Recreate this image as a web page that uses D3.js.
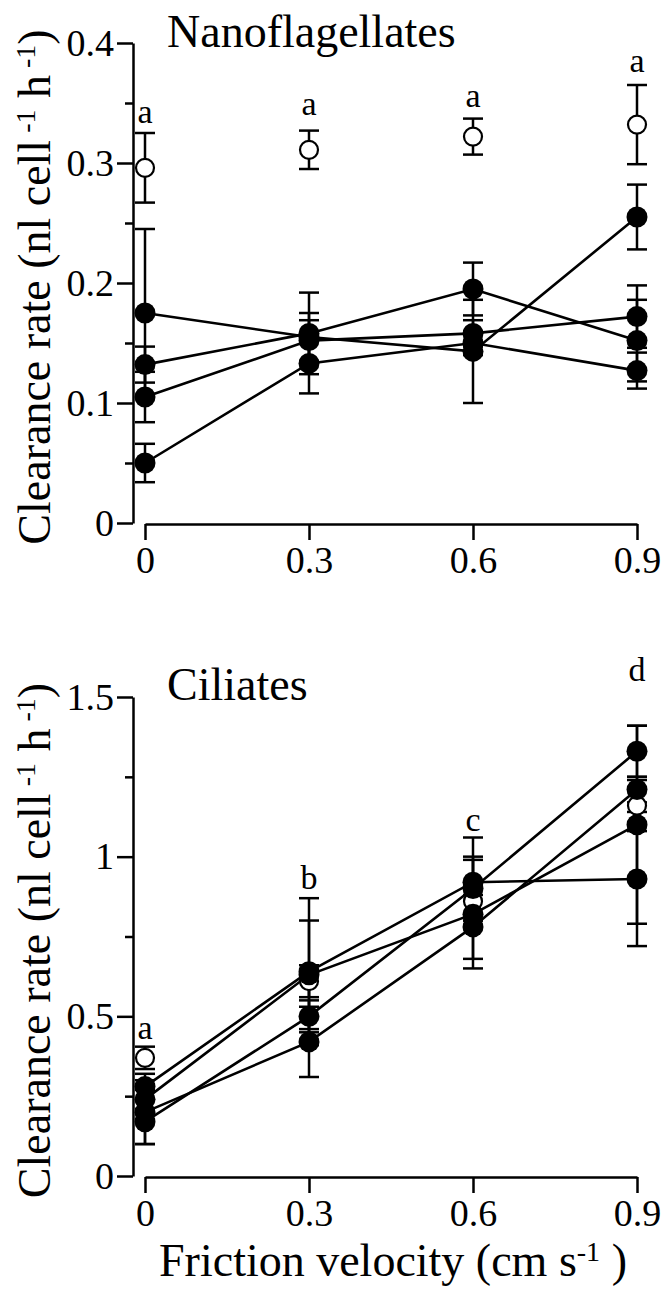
<!DOCTYPE html>
<html>
<head>
<meta charset="utf-8">
<script src="https://cdn.jsdelivr.net/npm/d3@7"></script>
<style>
  body { margin: 0; background: #fff; }
  text { font-family: "Liberation Serif", "Times New Roman", serif; fill: #000; }
  .axis path, .axis line { stroke: #000; stroke-width: 2.5px; }
</style>
</head>
<body>
<div class="chart"></div>
<script>
const velocity = [0, 0.3, 0.6, 0.9]
const xTickLabels = ['0', '0.3', '0.6', '0.9']

// nanoflagellates: four runs (filled) and the mean (open)
const nanoRuns = [
  [0.132, 0.158, 0.195, 0.152],
  [0.175, 0.155, 0.143, 0.255],
  [0.105, 0.152, 0.158, 0.172],
  [0.050, 0.133, 0.150, 0.127]
]
const nanoRunErr = [
  [0.015, 0.034, 0.022, 0.034],
  [0.070, 0.020, 0.043, 0.027],
  [0.021, 0.017, 0.011, 0.026],
  [0.016, 0.025, 0.010, 0.015]
]
const nanoMean = [0.296, 0.311, 0.322, 0.332]
const nanoMeanErr = [0.029, 0.016, 0.015, 0.033]
const nanoLetters = ['a', 'a', 'a', 'a']
const nanoLetterAt = [0.333, 0.340, 0.347, 0.376]
const nanoTicks = [0, 0.1, 0.2, 0.3, 0.4]
const nanoTickLabels = ['0', '0.1', '0.2', '0.3', '0.4']
const nanoMinor = [0.05, 0.15, 0.25, 0.35]

// ciliates
const ciliRuns = [
  [0.28, 0.64, 0.92, 0.93],
  [0.17, 0.50, 0.90, 1.33],
  [0.24, 0.63, 0.82, 1.10],
  [0.20, 0.42, 0.78, 1.21]
]
const ciliRunErr = [
  [0.04, 0.23, 0.14, 0.21],
  [0.07, 0.05, 0.10, 0.08],
  [0.03, 0.17, 0.17, 0.31],
  [0.10, 0.11, 0.10, 0.04]
]
const ciliMean = [0.37, 0.61, 0.86, 1.16]
const ciliMeanErr = [0.035, 0.05, 0.06, 0.08]
const ciliLetters = ['a', 'b', 'c', 'd']
const ciliLetterAt = [0.43, 0.90, 1.08, 1.55]
const ciliTicks = [0, 0.5, 1, 1.5]
const ciliTickLabels = ['0', '0.5', '1', '1.5']
const ciliMinor = [0.25, 0.75, 1.25]

const svg = d3.select('.chart')
  .append('svg')
    .attr('width', 662)
    .attr('height', 1293)

const x = d3.scaleLinear().domain([0, 0.9]).range([145, 637])
const axisX = 133

function drawPanel (p) {
  const y = d3.scaleLinear().domain([0, p.max]).range([p.bottom, p.top])
  const g = svg.append('g')

  //y axis, major then minor ticks
  g.append('g')
    .attr('class', 'axis')
    .attr('transform', `translate(${axisX},0)`)
    .call(d3.axisLeft(y).tickValues(p.ticks).tickSize(16).tickSizeOuter(0).tickPadding(3)
      .tickFormat((d, i) => p.tickLabels[i]))
    .call(a => a.selectAll('text').style('font-size', '38px').style('font-family', '"Liberation Serif", serif'))
  g.append('g')
    .attr('class', 'axis')
    .attr('transform', `translate(${axisX},0)`)
    .call(d3.axisLeft(y).tickValues(p.minor).tickSize(8).tickFormat(''))
    .call(a => a.select('.domain').remove())

  //x axis
  g.append('g')
    .attr('class', 'axis')
    .attr('transform', `translate(0,${p.bottom + 1})`)
    .call(d3.axisBottom(x).tickValues(velocity).tickSize(16).tickSizeOuter(0).tickPadding(6)
      .tickFormat((d, i) => xTickLabels[i]))
    .call(a => a.selectAll('text').style('font-size', '38px').style('font-family', '"Liberation Serif", serif'))

  //title
  g.append('text')
    .attr('x', 167)
    .attr('y', p.titleY)
    .style('font-size', '46px')
    .text(p.title)

  //y label
  const lab = g.append('text')
    .attr('transform', `translate(50,${(p.top + p.bottom) / 2 + 4}) rotate(-90)`)
    .attr('text-anchor', 'middle')
    .style('font-size', '46px')
  lab.append('tspan').text('Clearance rate (nl cell')
  lab.append('tspan').attr('baseline-shift', 'super').style('font-size', '28px').text(' -1')
  lab.append('tspan').text(' h')
  lab.append('tspan').attr('baseline-shift', 'super').style('font-size', '28px').text(' -1')
  lab.append('tspan').text(')')

  const line = d3.line().x((d, i) => x(velocity[i])).y(d => y(d))

  //run lines
  g.append('g')
    .selectAll('path')
    .data(p.runs)
    .enter().append('path')
      .attr('d', line)
      .attr('fill', 'none')
      .attr('stroke', '#000')
      .attr('stroke-width', 2.6)

  //error bars
  const bars = []
  p.runs.forEach((r, s) => r.forEach((v, i) => bars.push({ x: velocity[i], v, e: p.runErr[s][i] })))
  p.mean.forEach((v, i) => bars.push({ x: velocity[i], v, e: p.meanErr[i] }))
  const eb = g.append('g').attr('stroke', '#000').attr('stroke-width', 2.5)
  eb.selectAll('.stem')
    .data(bars)
    .enter().append('line')
      .attr('x1', d => x(d.x)).attr('x2', d => x(d.x))
      .attr('y1', d => y(d.v - d.e)).attr('y2', d => y(d.v + d.e))
  eb.selectAll('.capTop')
    .data(bars)
    .enter().append('line')
      .attr('x1', d => x(d.x) - 10).attr('x2', d => x(d.x) + 10)
      .attr('y1', d => y(d.v + d.e)).attr('y2', d => y(d.v + d.e))
  eb.selectAll('.capBot')
    .data(bars)
    .enter().append('line')
      .attr('x1', d => x(d.x) - 10).attr('x2', d => x(d.x) + 10)
      .attr('y1', d => y(d.v - d.e)).attr('y2', d => y(d.v - d.e))

  //mean, open circles
  g.append('g')
    .selectAll('circle')
    .data(p.mean)
    .enter().append('circle')
      .attr('cx', (d, i) => x(velocity[i]))
      .attr('cy', d => y(d))
      .attr('r', 9)
      .attr('fill', '#fff')
      .attr('stroke', '#000')
      .attr('stroke-width', 2.2)

  //runs, filled circles
  g.append('g')
    .selectAll('g')
    .data(p.runs)
    .enter().append('g')
    .selectAll('circle')
    .data(d => d)
    .enter().append('circle')
      .attr('cx', (d, i) => x(velocity[i]))
      .attr('cy', d => y(d))
      .attr('r', 10.5)
      .attr('fill', '#000')

  //significance letters
  g.append('g')
    .selectAll('text')
    .data(p.letters)
    .enter().append('text')
      .attr('x', (d, i) => x(velocity[i]))
      .attr('y', (d, i) => y(p.letterAt[i]))
      .attr('text-anchor', 'middle')
      .style('font-size', '34px')
      .text(d => d)
}

drawPanel({
  title: 'Nanoflagellates', titleY: 47, top: 43, bottom: 523, max: 0.4,
  ticks: nanoTicks, tickLabels: nanoTickLabels, minor: nanoMinor,
  runs: nanoRuns, runErr: nanoRunErr, mean: nanoMean, meanErr: nanoMeanErr,
  letters: nanoLetters, letterAt: nanoLetterAt
})

drawPanel({
  title: 'Ciliates', titleY: 700, top: 697, bottom: 1176, max: 1.5,
  ticks: ciliTicks, tickLabels: ciliTickLabels, minor: ciliMinor,
  runs: ciliRuns, runErr: ciliRunErr, mean: ciliMean, meanErr: ciliMeanErr,
  letters: ciliLetters, letterAt: ciliLetterAt
})

//x label
const xl = svg.append('text')
  .attr('x', 393)
  .attr('y', 1276)
  .attr('text-anchor', 'middle')
  .style('font-size', '46px')
xl.append('tspan').text('Friction velocity (cm s')
xl.append('tspan').attr('baseline-shift', 'super').style('font-size', '28px').text('-1')
xl.append('tspan').text(' )')
</script>
</body>
</html>
